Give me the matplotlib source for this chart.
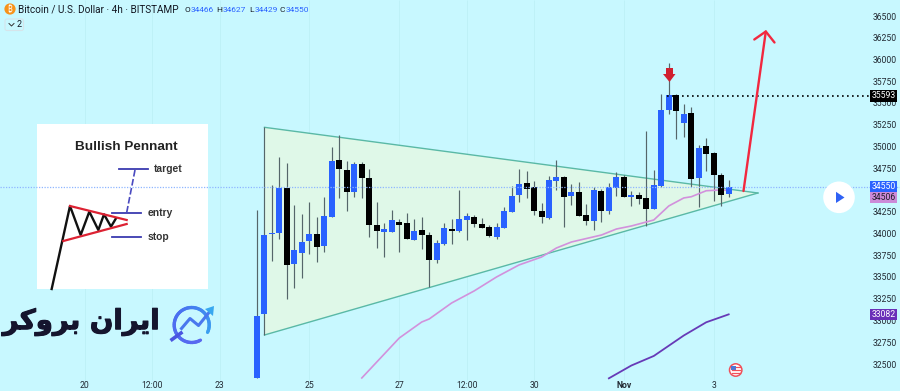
import numpy as np
import matplotlib
matplotlib.use("Agg")
import matplotlib.pyplot as plt
import matplotlib.patheffects as pe
from matplotlib.patches import Circle, Polygon, Rectangle, FancyBboxPatch
from matplotlib.transforms import Affine2D, blended_transform_factory

# ---------- data ----------
highs = [34282,35232,34569,34887,34818,34335,34236,34370,34197,34427,35002,35140,34849,34829,34829,34749,
         34370,34136,34278,34178,34243,34178,34201,34033,33937,34128,34178,34508,34243,34228,34193,34109,
         34136,34312,34561,34753,34730,34615,34358,34672,34856,34672,34580,34607,34350,34550,34519,34596,
         34722,34684,34500,34492,35190,34742,35615,35967,35615,35496,35469,35025,35109,34945,34703,34627]
lows = [32347,32845,33695,33948,33259,33389,33500,33780,33688,33795,34205,34420,34274,34435,34423,33975,
        33845,33738,34029,33795,33948,33933,33833,33400,33676,33879,33891,34033,33937,34090,34078,33967,
        33944,34078,34262,34377,34419,34220,34136,34174,34511,34090,34339,34216,34109,34055,34144,34236,
        34442,34427,34331,34350,34102,34289,34550,35385,35094,35125,34550,34320,34734,34389,34328,34429]
opens = [32347,33086,34006,34013,34534,33657,33784,33922,34006,33868,34205,34856,34738,34488,34806,34653,
         34113,34033,34029,34144,34128,33933,34048,33998,33703,33891,34063,34044,34170,34201,34121,34086,
         33971,34078,34262,34450,34588,34550,34274,34193,34611,34665,34446,34485,34224,34151,34504,34266,
         34538,34665,34431,34454,34420,34289,34561,35431,35603,35286,35393,34650,35013,34941,34688,34466]
closes = [33067,33994,34021,34534,33650,33818,33918,34006,33856,34209,34841,34749,34492,34806,34646,34109,
          34044,34063,34167,34109,33948,34040,33990,33703,33902,34071,34044,34178,34209,34117,34078,33979,
          34082,34266,34446,34580,34527,34274,34201,34622,34665,34427,34492,34216,34151,34508,34266,34550,
          34661,34427,34454,34412,34289,34569,35435,35600,35416,35389,34642,34991,34929,34684,34458,34550]

pink_x = [14,19,22,23,26,29,32,35,38,40,42,44,46,48,50,53,55,57,58,60,62,63]
pink_y = [32351,32810,32994,33029,33213,33351,33512,33650,33741,33845,33914,33954,33994,34063,34098,34167,
          34328,34420,34434,34503,34512,34506]
purple_x = [47,50,53,57,60,63]
purple_y = [32347,32494,32604,32839,32991,33082]

tri_x = [1, 1, 66.9]
tri_y = [35232, 32845, 34477]
price_ticks = [36500,36250,36000,35750,35500,35250,35000,34750,34250,34000,33750,33500,33250,33000,32750,32500]
time_pos = [-23,-14,-5,7,19,28,37,49,61]
time_labels = ['20','12:00','23','25','27','12:00','30','Nov','3']
last_price, ma_pink, ma_purple, peak = 34550, 34506, 33082, 35593

# ---------- layout ----------
W, H = 900, 391
BG = '#c8f8ff'
BLUE = '#2962ff'
fig = plt.figure(figsize=(9, 3.91), dpi=100, facecolor=BG)
ax = fig.add_axes([0, 0, 1, 1], facecolor=BG)
ax.set_xlim(-257/7.487, (W-257)/7.487)
ax.set_ylim(36500-(H-17)/0.087, 36500+17/0.087)
ax.axis('off')
ax.set_autoscale_on(False)
px = Affine2D().scale(1, -1).translate(0, H)   # pixel coords, y down
NARROW = ['Liberation Sans Narrow', 'Roboto', 'DejaVu Sans']
SANS = ['Roboto', 'DejaVu Sans']
TICK = 6.2

# grid
ax.vlines(time_pos, 32331, 36695, color='#bdf0f6', lw=0.6, zorder=1)

# pennant triangle
ax.add_patch(Polygon(np.column_stack([tri_x, tri_y]), closed=True, fc='#dff8e8', ec='none', zorder=1.5))
ax.plot([tri_x[0], tri_x[2]], [tri_y[0], tri_y[2]], color='#5ab9a6', lw=1.0, zorder=2)
ax.plot([tri_x[1], tri_x[2]], [tri_y[1], tri_y[2]], color='#5ab9a6', lw=1.0, zorder=2)

# candles
idx = np.arange(len(opens))
o, c = np.array(opens), np.array(closes)
colors = [BLUE if a >= b else 'black' for a, b in zip(c, o)]
ax.vlines(idx, lows, highs, color='#55666a', lw=0.85, zorder=3)
ax.bar(idx, np.maximum(np.abs(c-o), 14), bottom=np.minimum(o, c), width=0.8, color=colors, linewidth=0, zorder=4)

# moving averages
ax.plot(pink_x, pink_y, color='#d291dc', lw=1.2, zorder=3.5)
ax.plot(purple_x, purple_y, color='#673ab7', lw=1.3, zorder=3.5)

# price lines
ax.axhline(last_price, color='#8fb6ff', lw=0.9, ls=(0, (1, 1.2)), zorder=6)
ax.plot([54.8, 82], [peak, peak], color='black', lw=1.2, ls=(0, (1, 2)), zorder=6)

# red arrows
for xs, ys, lw in [([743.5, 765.8], [191, 31.5], 1.7), ([754.3, 765.8, 774.5], [39.5, 31.5, 42.5], 1.7)]:
    ax.plot(xs, ys, color='#f2283f', lw=lw, transform=px, zorder=7, solid_capstyle='round')
ax.add_patch(Polygon([(666, 68), (673, 68), (673, 74), (675.5, 74), (669.5, 82), (663, 74), (666, 74)],
                     fc='#d0202f', ec='none', transform=px, zorder=7))

# ---------- inset ----------
ax.add_patch(Rectangle((36.7, 124), 171.3, 165.3, fc='white', ec='none', transform=px, zorder=5))
def z5(pts):
    return [30+p[0]/3 for p in pts], [120+p[1]/3 for p in pts]
X, Y = z5([(65,507),(120,258),(152,345),(178,275),(205,330),(222,283),(243,320),(258,295)])
ax.plot(X, Y, color='#111111', lw=1.7, transform=px, zorder=5.2)
for seg in ([(120,258),(290,300)], [(100,363),(290,312)]):
    X, Y = z5(seg)
    ax.plot(X, Y, color='#dd2233', lw=1.6, transform=px, zorder=5.3)
for seg in ([(267,147),(355,147)], [(245,280),(333,280)], [(245,350),(333,350)]):
    X, Y = z5(seg)
    ax.plot(X, Y, color='#3a3ab0', lw=1.3, transform=px, zorder=5.3)
X, Y = z5([(315,150),(290,278)])
ax.plot(X, Y, color='#4a4ac0', lw=1.2, ls=(0, (4, 1.5)), transform=px, zorder=5.3)
ax.text(126.7, 147.5, 'Bullish Pennant', transform=px, fontsize=9.7, fontweight='bold', family=['Liberation Sans'],
        color='#222222', ha='center', va='center', zorder=5.4)
for tx, ty, s in [(154, 169.3, 'target'), (147.5, 212.8, 'entry'), (147.5, 237.5, 'stop')]:
    ax.text(tx, ty, s, transform=px, fontsize=7.4, fontweight='bold', family=['Liberation Sans'],
            color='#333333', ha='left', va='center', zorder=5.4)

# ---------- logo ----------
logo = '\ufeae\ufb90\ufeed\ufeae\ufe91 \ufee5\ufe8d\ufeae\ufbfe\ufe8d'
ax.text(81, 322, logo, transform=px, fontsize=19.8, fontweight='bold', family=['DejaVu Sans'],
        color='#15152e', ha='center', va='center', zorder=5,
        path_effects=[pe.withStroke(linewidth=0.8, foreground='#15152e')])
theta = np.radians(np.linspace(-25, 300, 60))
cx, cy, r = 191.7, 325, 17.5
grad = matplotlib.colors.LinearSegmentedColormap.from_list('g', ['#3aa0f0', '#4a70f0', '#5a68f0'])
for i in range(len(theta)-1):
    ax.plot(cx+r*np.cos(theta[i:i+2]), cy-r*np.sin(theta[i:i+2]), color=grad(i/59), lw=2.4,
            transform=px, zorder=5, solid_capstyle='round')
ax.plot([172, 181], [339.5, 333], color='#4a55e0', lw=2.6, transform=px, zorder=5)
ax.plot([181.5, 190, 198.5, 211], [328.5, 318.5, 325.5, 310], color='#4a78ee', lw=2.2, transform=px, zorder=5)
ax.add_patch(Polygon([(205, 309), (214, 306), (213, 316)], fc='#38a8f0', ec='none', transform=px, zorder=5))

# ---------- header ----------
ax.add_patch(Circle((10, 9), 5.6, fc='#f7931a', ec='none', transform=px, zorder=8))
ax.text(10, 9.3, '\u20bf', transform=px, fontsize=6, color='white', ha='center', va='center', zorder=9,
        family=['Noto Sans', 'Roboto', 'Open Sans', 'Inter', 'Lato', 'Liberation Sans', 'DejaVu Sans'])
ax.text(18.5, 9.5, 'Bitcoin / U.S. Dollar \u00b7 4h \u00b7 BITSTAMP', transform=px, fontsize=7.2, color='#131722',
        family=SANS, ha='left', va='center', zorder=8)
for lx, vx, l, v in [(184.5, 190.5, 'O', 34466), (216.5, 222.5, 'H', 34627), (249, 254.5, 'L', 34429), (280, 286, 'C', 34550)]:
    ax.text(lx, 9.5, l, transform=px, fontsize=6.0, color='#131722', family=SANS, ha='left', va='center', zorder=8)
    ax.text(vx, 9.5, str(v), transform=px, fontsize=6.0, color=BLUE, family=SANS, ha='left', va='center', zorder=8)
ax.add_patch(FancyBboxPatch((5, 19), 18.5, 11.5, boxstyle='round,pad=0,rounding_size=2', fc=BG, ec='#d6e4ea', lw=0.8,
                            transform=px, zorder=8))
ax.plot([9, 11.5, 14], [23.5, 26, 23.5], color='#333333', lw=0.7, transform=px, zorder=9)
ax.text(19, 24.5, '2', transform=px, fontsize=6.4, color='#131722', family=SANS, ha='center', va='center', zorder=9)

# ---------- axes labels ----------
for p in price_ticks:
    ax.text(884.5, 17+(36500-p)*0.087, str(p), transform=px, fontsize=TICK, color='#222a33', family=NARROW,
            ha='center', va='center', zorder=8)
time_tr = blended_transform_factory(ax.transData, px)
for t, s in zip(time_pos, time_labels):
    ax.text(t, 386, s, transform=time_tr, fontsize=TICK, color='#222a33', family=NARROW, ha='center', va='center',
            zorder=8, fontweight='bold' if s == 'Nov' else 'normal')

for val, fc, tc in [(peak, 'black', 'white'), (last_price, BLUE, 'white'), (ma_purple, '#6a30b8', 'white')]:
    yc = 17+(36500-val)*0.087
    ax.add_patch(Rectangle((870, yc-5.6), 27, 11.2, fc=fc, ec='none', transform=px, zorder=9))
    ax.text(883.5, yc, str(val), transform=px, fontsize=TICK, color=tc, family=NARROW, ha='center', va='center', zorder=10)
ax.add_patch(Rectangle((870, 192), 27, 11, fc='#cc8ad8', ec='none', transform=px, zorder=9))
ax.text(883.5, 197.6, str(ma_pink), transform=px, fontsize=TICK, color='#20202a', family=NARROW, ha='center', va='center', zorder=10)

# play button
ax.add_patch(Circle((839, 197.3), 15.8, fc='white', ec='none', transform=px, zorder=8))
ax.add_patch(Polygon([(836, 191.8), (844.5, 197.5), (836, 203)], fc='#2f62f5', ec='none', transform=px, zorder=9))

# event flag
ax.add_patch(Circle((735.7, 370), 6.2, fc='white', ec='#f0505a', lw=1.1, transform=px, zorder=8))
ax.add_patch(Rectangle((730.5, 365.5), 5.5, 4, fc='#4a78d8', ec='none', transform=px, zorder=9))
for yy in (366.8, 370.2, 373.2):
    ax.plot([731.5 if yy > 370 else 736, 740], [yy, yy], color='#f0505a', lw=0.9, transform=px, zorder=9)

fig.savefig('out.png', dpi=100, facecolor=BG)
